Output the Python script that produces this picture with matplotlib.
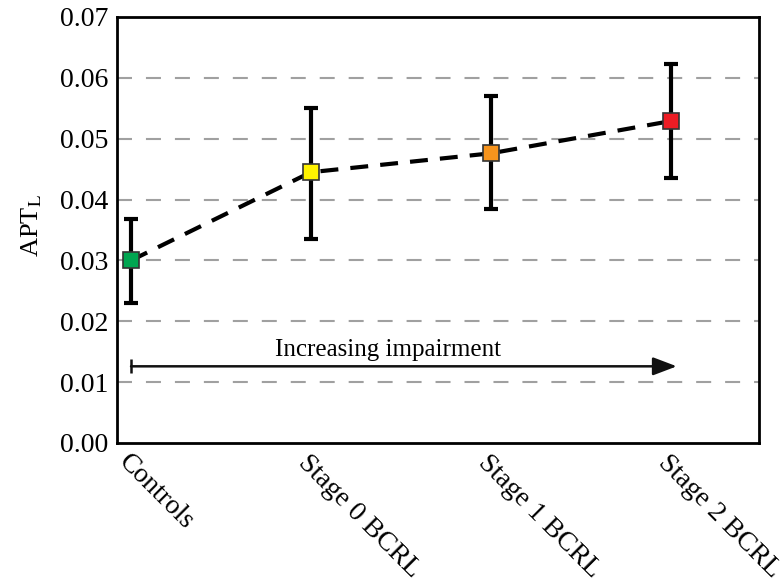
import matplotlib
matplotlib.use("Agg")
import matplotlib.pyplot as plt

categories = ["Controls", "Stage 0 BCRL", "Stage 1 BCRL", "Stage 2 BCRL"]
means = [0.0300, 0.0445, 0.0476, 0.0529]
err_upper = [0.0368, 0.0550, 0.0570, 0.0622]
err_lower = [0.0230, 0.0335, 0.0384, 0.0435]
colors = ["#00A651", "#FFF200", "#F7941D", "#ED1C24"]
yticks = [0.00, 0.01, 0.02, 0.03, 0.04, 0.05, 0.06, 0.07]
arrow_y = 0.0126
arrow_text = "Increasing impairment"

plt.rcParams['font.family'] = ['Liberation Serif', 'DejaVu Serif']
plt.rcParams['mathtext.fontset'] = 'stix'

fig = plt.figure(figsize=(7.83, 5.87), dpi=100)
ax = fig.add_axes([117/783, 1-443/587, (759-117)/783, (443-17)/587])

x = list(range(len(categories)))
ax.set_xlim(-0.078, 3.49)
ax.set_ylim(0, 0.07)

for yv in yticks[1:-1]:
    ax.axhline(yv, color="#a0a0a0", lw=1.5, ls=(0, (7.2, 6.7)), zorder=0)

ax.plot(x, means, color="black", lw=3, ls=(0, (4.3, 2.9)), zorder=2)
lo = [m - l for m, l in zip(means, err_lower)]
hi = [u - m for m, u in zip(means, err_upper)]
ax.errorbar(x, means, yerr=[lo, hi], fmt="none", ecolor="black", elinewidth=3,
            capsize=4.8, capthick=3, zorder=3)
for xi, m, c in zip(x, means, colors):
    ax.plot(xi, m, marker="s", ms=11.5, mfc=c, mec="#333333", mew=1.2, zorder=4)

ax.annotate("", xy=(3.033, arrow_y), xytext=(0, arrow_y),
            arrowprops=dict(arrowstyle="-|>,head_length=1.45,head_width=0.55",
                            color="#111111", lw=1.8, shrinkA=0, shrinkB=0))
ax.plot(0, arrow_y, marker="|", ms=10, mew=1.8, color="#111111")
ax.text(1.43, arrow_y + 0.0017, arrow_text, ha="center", va="baseline", fontsize=18)

ax.set_yticks(yticks)
ax.set_yticklabels([f"{v:.2f}" for v in yticks], fontsize=20)
ax.set_xticks(x)
ax.set_xticklabels(categories, rotation=-45, ha="left", va="top",
                   rotation_mode="anchor", fontsize=20)
ax.tick_params(axis="both", length=0, pad=6)
ax.tick_params(axis="x", pad=5)
for s in ax.spines.values():
    s.set_linewidth(2)
ax.set_ylabel(r"APT$_\mathrm{L}$", fontsize=19)
ax.yaxis.set_label_coords(-0.114, 0.51)

fig.savefig("out.png", dpi=100)
